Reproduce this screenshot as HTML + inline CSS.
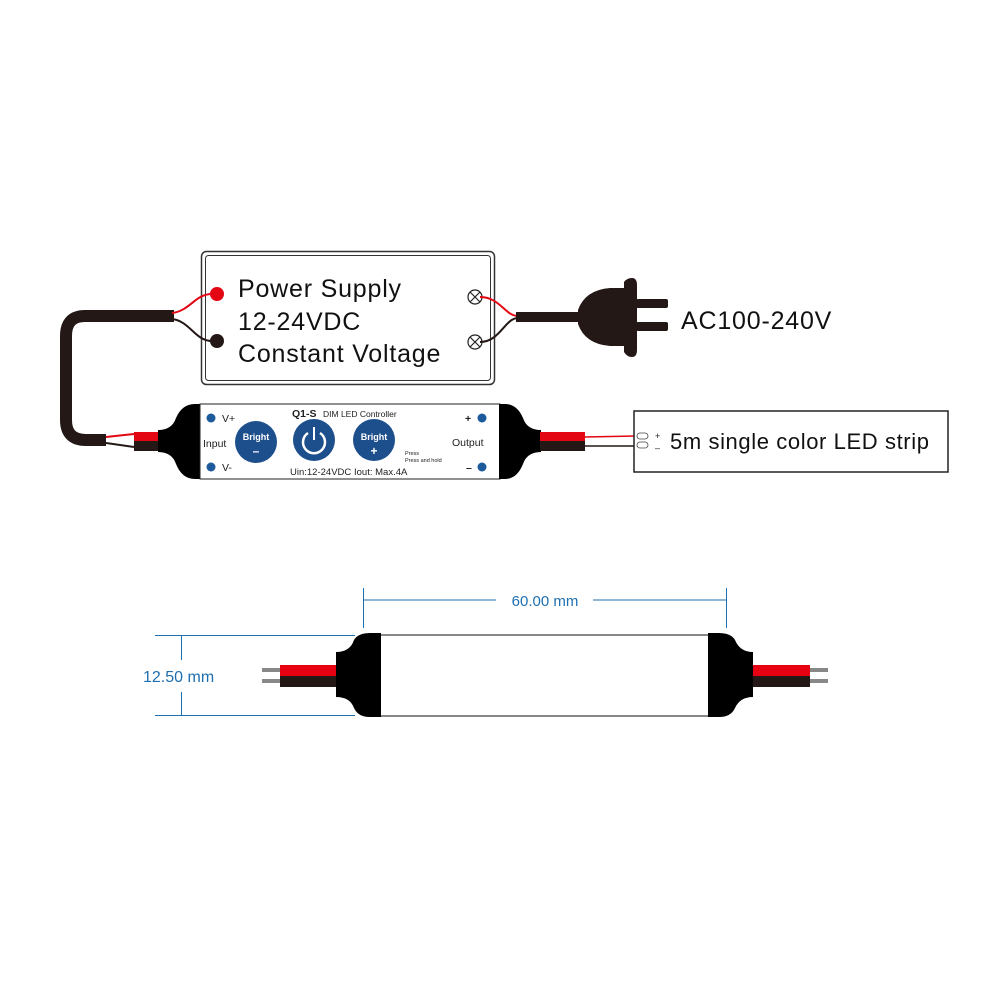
<!DOCTYPE html>
<html><head><meta charset="utf-8"><style>
html,body{margin:0;padding:0;background:#fff}
svg{display:block}
text{font-family:"Liberation Sans",sans-serif}
</style></head><body>
<svg width="1000" height="1000" viewBox="0 0 1000 1000" xmlns="http://www.w3.org/2000/svg">
<!-- power supply -->
<rect x="201.5" y="251.5" width="293" height="133" rx="5" fill="#fff" stroke="#333" stroke-width="1.5"/>
<rect x="205.5" y="255.5" width="285" height="125" rx="3" fill="none" stroke="#333" stroke-width="1"/>
<g font-size="25" fill="#111" letter-spacing="0.8">
<text x="238" y="297">Power Supply</text>
<text x="238" y="330">12-24VDC</text>
<text x="238" y="362">Constant Voltage</text>
</g>
<circle cx="217" cy="294" r="7" fill="#e30613"/>
<circle cx="217" cy="341" r="7" fill="#231815"/>
<g stroke="#222" stroke-width="1.2" fill="#fff">
<circle cx="475" cy="297" r="7"/><path d="M470,292 L480,302 M480,292 L470,302"/>
<circle cx="475" cy="342" r="7"/><path d="M470,337 L480,347 M480,337 L470,347"/>
</g>
<!-- cable loop -->
<path d="M174,316 H85 Q66,316 66,336 V420 Q66,440 86,440 H106" fill="none" stroke="#231815" stroke-width="12"/>
<path d="M172,313 C190,311 195,294 212,294" fill="none" stroke="#e30613" stroke-width="2"/>
<path d="M172,319 C190,321 195,341 212,341" fill="none" stroke="#231815" stroke-width="2"/>
<!-- AC wires -->
<path d="M480,297 C500,297 505,316 518,316" fill="none" stroke="#e30613" stroke-width="2"/>
<path d="M480,342 C500,342 505,318 518,318" fill="none" stroke="#231815" stroke-width="2"/>
<path d="M516,317 H580" stroke="#231815" stroke-width="10"/>
<!-- plug -->
<path d="M578,310 Q585,290 610,288 L624,288 L624,282 Q627,278 632,278 Q637,278 637,285 V350 Q637,357 632,357 Q627,357 624,352 V346 L610,346 Q585,344 578,324 Z" fill="#231815"/>
<rect x="636" y="299" width="32" height="9" rx="2" fill="#231815"/>
<rect x="636" y="322" width="32" height="9" rx="2" fill="#231815"/>
<text x="681" y="329" font-size="25" fill="#111" letter-spacing="0.8">AC100-240V</text>
<!-- controller -->
<path d="M106,437 L134,434" stroke="#e30613" stroke-width="2"/>
<path d="M106,443 L134,447" stroke="#231815" stroke-width="2"/>
<rect x="134" y="432" width="25" height="9" fill="#e30613"/>
<rect x="134" y="441" width="25" height="10" fill="#231815"/>
<path d="M158,430 Q172,430 176,418 Q182,404 195,404 H201 V479 H195 Q182,479 176,464 Q172,452 158,452 Z" fill="#000"/>
<rect x="200" y="404" width="300" height="75" fill="#fff" stroke="#222" stroke-width="1"/>
<path d="M541,430 Q527,430 523,418 Q517,404 505,404 H499 V479 H505 Q517,479 523,464 Q527,452 541,452 Z" fill="#000"/>
<rect x="540" y="432" width="45" height="9" fill="#e30613"/>
<rect x="540" y="441" width="45" height="10" fill="#231815"/>
<path d="M585,437 L636,436" stroke="#e30613" stroke-width="1.5"/>
<path d="M585,446 L636,446" stroke="#231815" stroke-width="1.5"/>
<g fill="#1d5a9c">
<circle cx="211" cy="418" r="4.5"/><circle cx="211" cy="467" r="4.5"/>
<circle cx="482" cy="418" r="4.5"/><circle cx="482" cy="467" r="4.5"/>
</g>
<g font-size="10.5" fill="#222">
<text x="222" y="422">V+</text><text x="222" y="471">V-</text>
<text x="203" y="447">Input</text><text x="452" y="446">Output</text>
<text x="465" y="422" font-weight="bold">+</text><text x="466" y="471" font-weight="bold">–</text>
<text x="290" y="475" font-size="9.5">Uin:12-24VDC</text>
<text x="354" y="475" font-size="9.5">Iout: Max.4A</text>
<text x="405" y="455" font-size="5.5">Press</text>
<text x="405" y="462" font-size="5.5">Press and hold</text>
</g>
<text x="292" y="417" font-size="10.5" font-weight="bold" fill="#222">Q1-S</text>
<text x="323" y="417" font-size="8.5" fill="#222">DIM LED Controller</text>
<g fill="#1d4f8c">
<circle cx="256" cy="442" r="21"/><circle cx="314" cy="440" r="21"/><circle cx="374" cy="440" r="21"/>
</g>
<g fill="#fff" font-weight="bold" text-anchor="middle">
<text x="256" y="440" font-size="9">Bright</text><text x="256" y="455" font-size="12">–</text>
<text x="374" y="440" font-size="9">Bright</text><text x="374" y="455" font-size="12">+</text>
</g>
<path d="M308,433 A11,11 0 1 0 320,433" fill="none" stroke="#fff" stroke-width="2.5"/>
<path d="M314,427 V440" stroke="#fff" stroke-width="2"/>
<!-- LED strip box -->
<rect x="634" y="411" width="314" height="61" fill="#fff" stroke="#222" stroke-width="1.5"/>
<rect x="637" y="433" width="11" height="6" rx="3" fill="#fff" stroke="#444" stroke-width="0.8"/>
<rect x="637" y="442" width="11" height="6" rx="3" fill="#fff" stroke="#444" stroke-width="0.8"/>
<text x="655" y="439" font-size="9" fill="#222">+</text>
<text x="655" y="451" font-size="9" fill="#222">–</text>
<text x="670" y="449" font-size="22" fill="#111" letter-spacing="0.6">5m single color LED strip</text>
<!-- bottom dimension drawing -->
<g stroke="#1e6fb0" stroke-width="1" fill="none">
<path d="M363.5,588 V628 M726.5,588 V628 M363,600 H496 M593,600 H726"/>
<path d="M155,635.5 H355 M155,715.5 H355 M181.5,636 V660 M181.5,692 V715"/>
</g>
<text x="545" y="606" font-size="15" fill="#1e6fb0" text-anchor="middle">60.00 mm</text>
<text x="143" y="682" font-size="16" fill="#1e6fb0">12.50 mm</text>
<rect x="380" y="635" width="330" height="81" fill="#fff" stroke="#111" stroke-width="1"/>
<rect x="262" y="668" width="18" height="4" fill="#888"/>
<rect x="262" y="679" width="18" height="4" fill="#888"/>
<rect x="280" y="665" width="58" height="11" fill="#e60012"/>
<rect x="280" y="676" width="58" height="11" fill="#231815"/>
<path d="M336,652 Q350,652 354,640 Q358,633 370,633 H381 V717 H370 Q358,717 354,708 Q350,697 336,697 Z" fill="#000"/>
<rect x="810" y="668" width="18" height="4" fill="#888"/>
<rect x="810" y="679" width="18" height="4" fill="#888"/>
<rect x="752" y="665" width="58" height="11" fill="#e60012"/>
<rect x="752" y="676" width="58" height="11" fill="#231815"/>
<path d="M753,652 Q740,652 735,640 Q731,633 719,633 H708 V717 H719 Q731,717 735,708 Q740,697 753,697 Z" fill="#000"/>
</svg>
</body></html>
